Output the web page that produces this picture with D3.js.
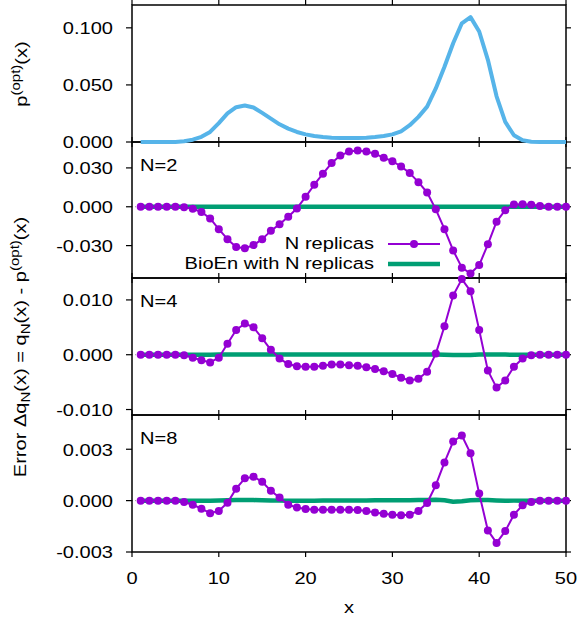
<!DOCTYPE html>
<html>
<head>
<meta charset="utf-8">
<script src="https://cdn.jsdelivr.net/npm/d3@7"></script>
<style>
  html, body { margin: 0; padding: 0; background: #fff; }
  svg { display: block; }
  text { font-family: "Liberation Sans", Arial, Helvetica, sans-serif; fill: #000; }
</style>
</head>
<body>
<svg id="chart" width="581" height="620"></svg>
<script>
// ---------------- data ----------------
const xVals = [1,2,3,4,5,6,7,8,9,10,11,12,13,14,15,16,17,18,19,20,21,22,23,24,25,26,27,28,29,30,31,32,33,34,35,36,37,38,39,40,41,42,43,44,45,46,47,48,49,50];

const pOpt = [0,0,0,0,0,0.0006,0.002,0.0045,0.0088,0.0165,0.025,0.0305,0.032,0.0302,0.0255,0.0205,0.0155,0.0117,0.0088,0.0067,0.0053,0.0044,0.0038,0.0035,0.0034,0.0035,0.0038,0.0044,0.0053,0.0067,0.0094,0.0147,0.022,0.031,0.0469,0.0659,0.0865,0.104,0.1094,0.0968,0.072,0.040,0.0176,0.0059,0.0015,0.0003,0,0,0,0];

const errN2 = [0,0,0,0,0,-0.0003,-0.0015,-0.004,-0.009,-0.0173,-0.025,-0.031,-0.032,-0.0296,-0.025,-0.0186,-0.0135,-0.0077,-0.0013,0.0077,0.017,0.0255,0.0337,0.0395,0.0426,0.0434,0.0426,0.041,0.0378,0.0352,0.0311,0.026,0.019,0.011,-0.002,-0.0173,-0.0337,-0.047,-0.0515,-0.045,-0.029,-0.0115,-0.0026,0.0018,0.002,0.0015,0.0005,0,0,0];
const bioN2 = [0,0,0,0,0,0,0,0,0,0,0,0,0,0,0,0,0,0,0,0,0,0,0,0,0,0,0,0,0,0,0,0,0,0,0,0,0,0,0,0,0,0,0,0,0,0,0,0,0,0];

const errN4 = [0,0,0,0,0,-0.0001,-0.00055,-0.001,-0.0014,-0.00055,0.002,0.0045,0.0057,0.005,0.003,0.0009,-0.0007,-0.0017,-0.0021,-0.0022,-0.0022,-0.002,-0.0018,-0.0018,-0.0019,-0.002,-0.0023,-0.0026,-0.003,-0.0035,-0.0042,-0.0047,-0.0044,-0.0031,0.0002,0.0052,0.0108,0.0138,0.0116,0.0045,-0.0029,-0.006,-0.0047,-0.0022,-0.0007,-0.0001,0,0,0,0];
const bioN4 = [0,0,0,0,0,0,0,0,0,0.00003,0.00004,0.00005,0.00005,0.00005,0.00004,0.00004,0.00004,0.00004,0.00004,0.00004,0.00004,0.00004,0.00004,0.00004,0.00005,0.00005,0.00005,0.00005,0.00006,0.00006,0.00006,0.00006,0.00005,0.00004,0.00002,0.00001,-0.00004,-0.00006,-0.00003,0.00003,0.00004,0.00003,0.00002,0.00001,0,0,0,0,0,0];

const errN8 = [0,0,0,0,0,-0.00008,-0.00024,-0.00047,-0.00073,-0.0006,-0.00012,0.0007,0.0013,0.0014,0.0011,0.00057,0.00018,-0.00024,-0.0004,-0.00049,-0.00053,-0.00053,-0.00053,-0.00053,-0.00053,-0.00055,-0.0006,-0.00069,-0.00076,-0.00082,-0.00086,-0.00082,-0.0006,-0.00014,0.0009,0.00223,0.00345,0.0038,0.00276,0.00041,-0.00174,-0.00247,-0.00178,-0.00082,-0.00027,-0.00008,0,0,0,0];
const bioN8 = [0,0,0,0,0,0,0,0,0,0.00001,0.00002,0.00004,0.00004,0.00003,0.00002,0.00001,0,0,0,0,0,0.00001,0.00001,0.00001,0.00001,0.00001,0.00001,0.00002,0.00002,0.00002,0.00002,0.00002,0.00003,0.00004,0.00005,0.00002,-0.00006,-0.00003,0.00002,0.00004,0.00003,0.00001,-0.00001,0,0,0,0,0,0,0];

const xTicks = [0,10,20,30,40,50];
const xTickLabels = ["0","10","20","30","40","50"];

const panelLabels = ["", "N=2", "N=4", "N=8"];
const yDomains = [[0, 0.12], [-0.055, 0.05], [-0.011, 0.014], [-0.003, 0.005]];
const yTicks = [[0, 0.05, 0.1], [-0.03, 0, 0.03], [-0.01, 0, 0.01], [-0.003, 0, 0.003]];
const yTickLabels = [["0.000","0.050","0.100"], ["-0.030","0.000","0.030"], ["-0.010","0.000","0.010"], ["-0.003","0.000","0.003"]];

const legendLabels = ["N replicas", "BioEn with N replicas"];

// ---------------- style ----------------
const COL_P = "#56b4e9", COL_N = "#9400d3", COL_B = "#009e73";
const FS = 17, SX = 1.18, PR = 4;

// ---------------- layout ----------------
const svg = d3.select("#chart");
const L = 132, R = 566;
const bounds = [[5, 142], [142, 278], [278, 415], [415, 552]];
const x = d3.scaleLinear().domain([0, 50]).range([L, R]);
const ys = bounds.map((b, i) => d3.scaleLinear().domain(yDomains[i]).range([b[1], b[0]]));

function addText(parent, tx, ty, parts, opts = {}) {
  const anchor = opts.anchor || "start";
  const rot = opts.rotate || 0;
  const size = opts.size || FS;
  const g = parent.append("g").attr("transform", `translate(${tx},${ty}) rotate(${rot}) scale(${SX},1)`);
  const t = g.append("text").attr("text-anchor", anchor).attr("font-size", size);
  let cur = 0;
  parts.forEach(p => {
    const obj = typeof p === "string" ? { t: p } : p;
    const target = obj.sup ? -size * 0.38 : obj.sub ? size * 0.25 : 0;
    const ts = t.append("tspan").text(obj.t).attr("dy", target - cur);
    if (obj.sup || obj.sub) ts.attr("font-size", size * 0.75);
    cur = target;
  });
  return g;
}

const gAll = svg.append("g");

const panelData = [
  { lines: [{ v: pOpt, c: COL_P, w: 4 }], pts: null },
  { lines: [{ v: bioN2, c: COL_B, w: 4.5 }, { v: errN2, c: COL_N, w: 2 }], pts: errN2 },
  { lines: [{ v: bioN4, c: COL_B, w: 4.5 }, { v: errN4, c: COL_N, w: 2 }], pts: errN4 },
  { lines: [{ v: bioN8, c: COL_B, w: 4.5 }, { v: errN8, c: COL_N, w: 2 }], pts: errN8 }
];

bounds.forEach((b, i) => {
  const y = ys[i];
  const g = gAll.append("g");
  if (i > 0) {
    g.append("line").attr("x1", x(0)).attr("x2", x(50)).attr("y1", y(0)).attr("y2", y(0))
      .attr("stroke", "#999").attr("stroke-width", 1).attr("stroke-dasharray", "1,2");
  }
  g.append("rect").attr("x", L).attr("y", b[0]).attr("width", R - L).attr("height", b[1] - b[0])
    .attr("fill", "none").attr("stroke", "#000").attr("stroke-width", 1.5);
  xTicks.forEach(t => {
    g.append("line").attr("x1", x(t)).attr("x2", x(t)).attr("y1", b[0]).attr("y2", b[0] - 5).attr("stroke", "#000").attr("stroke-width", 1.2);
    g.append("line").attr("x1", x(t)).attr("x2", x(t)).attr("y1", b[1]).attr("y2", b[1] + 5).attr("stroke", "#000").attr("stroke-width", 1.2);
  });
  yTicks[i].forEach((t, k) => {
    g.append("line").attr("x1", L - 6).attr("x2", L).attr("y1", y(t)).attr("y2", y(t)).attr("stroke", "#000").attr("stroke-width", 1.2);
    g.append("line").attr("x1", R).attr("x2", R + 5).attr("y1", y(t)).attr("y2", y(t)).attr("stroke", "#000").attr("stroke-width", 1.2);
    addText(g, 113, y(t) + 6.3, [yTickLabels[i][k]], { anchor: "end" });
  });
  if (panelLabels[i]) addText(g, 140, b[0] + 29, [panelLabels[i]]);
});

const dataLayer = gAll.append("g");
panelData.forEach((pd, i) => {
  const y = ys[i];
  const line = d3.line().x((d, k) => x(xVals[k])).y(d => y(d));
  pd.lines.forEach(l => {
    dataLayer.append("path").datum(l.v).attr("d", line).attr("fill", "none")
      .attr("stroke", l.c).attr("stroke-width", l.w).attr("stroke-linejoin", "round");
  });
  if (pd.pts) {
    dataLayer.selectAll(null).data(pd.pts).enter().append("circle")
      .attr("cx", (d, k) => x(xVals[k])).attr("cy", d => y(d)).attr("r", PR).attr("fill", COL_N);
  }
});

xTicks.forEach((t, k) => addText(gAll, x(t), 584, [xTickLabels[k]], { anchor: "middle" }));
addText(gAll, (L + R) / 2, 613, ["x"], { anchor: "middle" });

addText(gAll, 26.5, 74, ["p", { t: "(opt)", sup: true }, "(x)"], { anchor: "middle", rotate: -90 });
addText(gAll, 25.5, 347, ["Error Δq", { t: "N", sub: true }, "(x) = q", { t: "N", sub: true }, "(x) - p", { t: "(opt)", sup: true }, "(x)"], { anchor: "middle", rotate: -90 });

const leg = gAll.append("g");
addText(leg, 374, 249, [legendLabels[0]], { anchor: "end" });
addText(leg, 374, 269, [legendLabels[1]], { anchor: "end" });
leg.append("line").attr("x1", 388).attr("x2", 440).attr("y1", 244).attr("y2", 244).attr("stroke", COL_N).attr("stroke-width", 2);
leg.append("circle").attr("cx", 414).attr("cy", 244).attr("r", PR).attr("fill", COL_N);
leg.append("line").attr("x1", 388).attr("x2", 440).attr("y1", 264).attr("y2", 264).attr("stroke", COL_B).attr("stroke-width", 4.5);
</script>
</body>
</html>
